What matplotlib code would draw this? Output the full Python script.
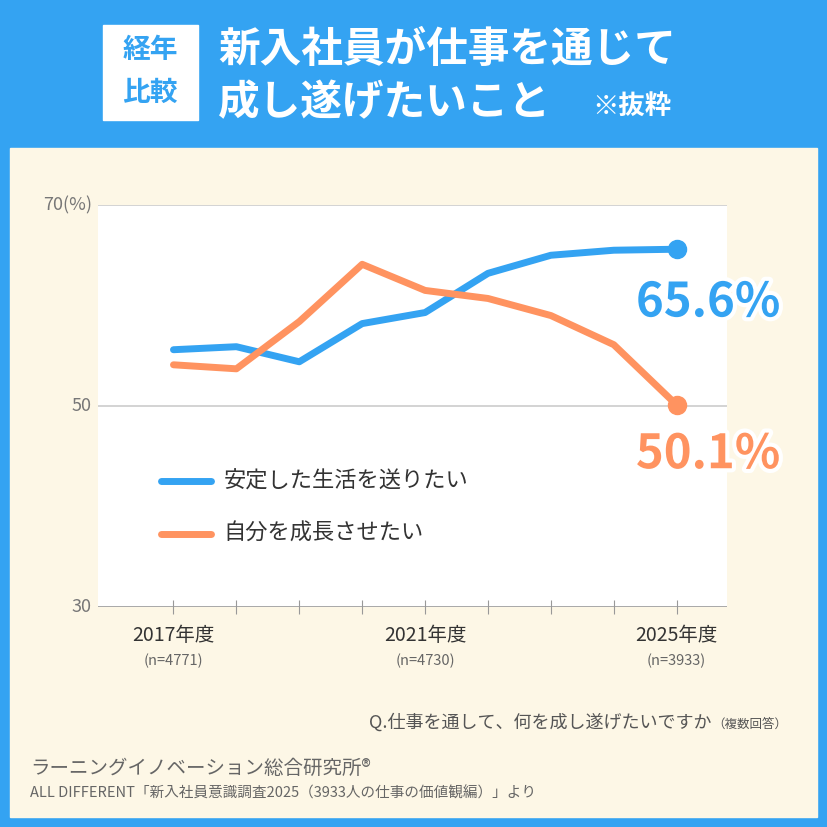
import matplotlib
matplotlib.use("Agg")
import matplotlib.pyplot as plt
from matplotlib.patches import Rectangle
import matplotlib.patheffects as pe

plt.rcParams["font.family"] = "Noto Sans CJK JP"

years = [2017, 2018, 2019, 2020, 2021, 2022, 2023, 2024, 2025]
stable = [55.6, 55.9, 54.4, 58.2, 59.3, 63.2, 65.0, 65.5, 65.6]
growth = [54.1, 53.7, 58.4, 64.1, 61.5, 60.7, 59.0, 56.1, 50.1]
series_names = ["安定した生活を送りたい", "自分を成長させたい"]
yticks = [30, 50, 70]
ytick_labels = ["30", "50", "70(%)"]

BLUE = "#34a3f2"
ORANGE = "#ff9360"
CREAM = "#fdf7e6"

W = 827
fig = plt.figure(figsize=(8.27, 8.27), dpi=100)
fig.patch.set_facecolor(BLUE)

def fx(px): return px / W
def fy(py): return 1 - py / W

fig.patches.append(Rectangle((fx(10), fy(817)), fx(807), (817 - 148) / W,
                             transform=fig.transFigure, color=CREAM, zorder=-5))
fig.patches.append(Rectangle((fx(103), fy(120)), fx(95), 95 / W,
                             transform=fig.transFigure, color="white", zorder=-4))
fig.text(fx(150), fy(50), "経年", color=BLUE, fontsize=20, fontweight="bold", ha="center", va="center")
fig.text(fx(150), fy(93), "比較", color=BLUE, fontsize=20, fontweight="bold", ha="center", va="center")
fig.text(fx(218), fy(50), "新入社員が仕事を通じて", color="white", fontsize=30, fontweight="bold", va="center")
fig.text(fx(218), fy(103), "成し遂げたいこと", color="white", fontsize=30, fontweight="bold", va="center")
fig.text(fx(592), fy(106), "※抜粋", color="white", fontsize=19, fontweight="bold", va="center")

ax = fig.add_axes([fx(98), fy(607), fx(727 - 98), (607 - 205) / W])
ax.set_zorder(5)
ax.set_facecolor("white")
ax.set_xlim(2015.8, 2025.8)
ax.set_ylim(30, 70)
for s in ax.spines.values():
    s.set_visible(False)
ax.axhline(30, color="#999999", lw=1.2)
for y in (50, 70):
    ax.axhline(y, color="#cccccc", lw=1.2)
ax.set_yticks(yticks)
ax.set_yticklabels([])
ax.tick_params(axis="y", length=0)
for y, lab in zip(yticks, ytick_labels):
    ax.text(2015.7, y, lab, ha="right", va="center", color="#777777", fontsize=13, clip_on=False)
ax.set_xticks(years)
ax.set_xticklabels([])
ax.tick_params(axis="x", length=10, color="#999999", direction="inout")

ax.plot(years, stable, color=BLUE, lw=5, solid_capstyle="round", solid_joinstyle="round")
ax.plot(years, growth, color=ORANGE, lw=5, solid_capstyle="round", solid_joinstyle="round")
ax.plot([years[-1]], [stable[-1]], "o", color=BLUE, ms=13)
ax.plot([years[-1]], [growth[-1]], "o", color=ORANGE, ms=13)

ax.text(years[-1] + 0.5, 60.3, f"{stable[-1]}%", color=BLUE, fontsize=34, fontweight="bold",
        ha="center", va="center", clip_on=False,
        path_effects=[pe.withStroke(linewidth=6, foreground="white")])
ax.text(years[-1] + 0.5, 45.2, f"{growth[-1]}%", color=ORANGE, fontsize=34, fontweight="bold",
        ha="center", va="center", clip_on=False,
        path_effects=[pe.withStroke(linewidth=6, foreground="white")])

for yy, col, name in [(42.5, BLUE, series_names[0]), (37.3, ORANGE, series_names[1])]:
    ax.plot([2016.8, 2017.6], [yy, yy], color=col, lw=5, solid_capstyle="round")
    ax.text(2017.8, yy, name, color="#333333", fontsize=16, va="center")

for yr, n in [(2017, 4771), (2021, 4730), (2025, 3933)]:
    ax.text(yr, 27.2, f"{yr}年度", ha="center", va="center", color="#333333", fontsize=14, clip_on=False)
    ax.text(yr, 24.6, f"(n={n})", ha="center", va="center", color="#666666", fontsize=10.5, clip_on=False)

fig.text(fx(712), fy(722), "Q.仕事を通して、何を成し遂げたいですか", color="#555555", fontsize=13, ha="right", va="center")
fig.text(fx(712), fy(724), "（複数回答）", color="#555555", fontsize=9, ha="left", va="center")
fig.text(fx(30), fy(768), "ラーニングイノベーション総合研究所®", color="#666666", fontsize=14, va="center")
fig.text(fx(30), fy(793), "ALL DIFFERENT「新入社員意識調査2025（3933人の仕事の価値観編）」より", color="#666666", fontsize=10.5, va="center")

fig.savefig("out.png", dpi=100, facecolor=fig.get_facecolor())
